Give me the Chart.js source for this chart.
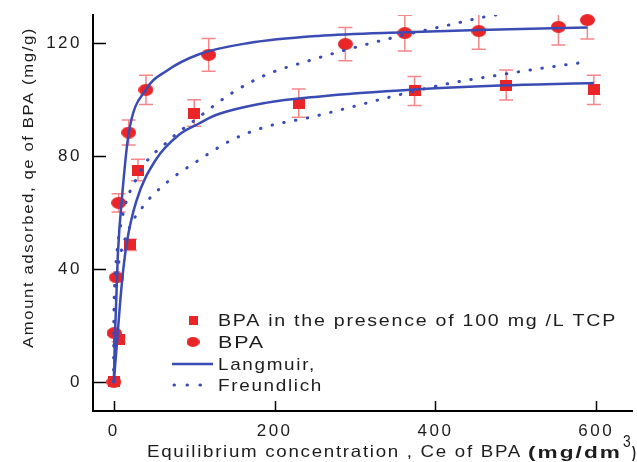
<!DOCTYPE html>
<html>
<head>
<meta charset="utf-8">
<script src="https://cdn.jsdelivr.net/npm/chart.js@4.4.1/dist/chart.umd.min.js"></script>
<style>
  html, body { margin: 0; padding: 0; background: #fff; }
  #wrap { width: 637px; height: 462px; }
</style>
</head>
<body>
<div id="wrap"><canvas id="chart"></canvas></div>
<script>
// measured points (BPA alone, circles)
const bpaX   = [0, 0.5, 3.5, 6, 18.5, 40, 118, 288, 362, 454, 553, 589];
const bpaY   = [0, 17.3, 37, 63.4, 88.3, 103.4, 115.8, 119.6, 123.5, 124.2, 125.7, 128.1];
const bpaErr = [0, 0.8, 1, 3.2, 4.4, 5.2, 5.8, 5.9, 6.3, 6.4, 6.4, 6.7];

// measured points (BPA with 100 mg/L TCP, squares)
const tcpX   = [0, 6, 20, 30, 100, 230, 374, 488, 597];
const tcpY   = [0, 15, 48.5, 75, 95.2, 98.7, 103, 105.1, 103.4];
const tcpErr = [0, 0.8, 2, 3.8, 4.7, 5, 5.1, 5.3, 5.2];

// fitted curves
const langBpaX = [0, 1.5, 5, 11, 18.5, 40, 65, 106, 168, 254, 362, 454, 589];
const langBpaY = [0, 17, 45, 68, 88, 103.5, 110, 116, 120, 122.5, 123.8, 124.6, 125.5];
const langTcpX = [0, 3.5, 10, 16, 28, 53, 81, 106, 127, 189, 254, 374, 488, 597];
const langTcpY = [0, 12.5, 35, 49, 64, 79, 87.5, 91.5, 94.5, 98.8, 101, 103.5, 105, 105.8];
const freBpaX  = [0, 0.3, 1, 3, 7.4, 32, 65, 106, 147, 189, 246, 288, 349, 411, 468, 486];
const freBpaY  = [0, 26, 34, 43, 53.8, 74, 84.6, 93.8, 102.3, 108.7, 114, 117.5, 122, 126, 129.6, 130.3];
const freTcpX  = [0, 0.3, 1, 3, 16, 36, 65, 106, 147, 189, 246, 295, 344, 419, 480, 526, 588];
const freTcpY  = [0, 22, 28.6, 36, 52, 62, 70.4, 78.6, 85.7, 90.3, 93.8, 97.3, 100.9, 105.8, 108.7, 110.8, 113.3];

const xTicks = [0, 200, 400, 600];
const yTicks = [0, 40, 80, 120];

const legendLabels = ['BPA in the presence of 100 mg /L TCP', 'BPA', 'Langmuir,', 'Freundlich'];

const RED = '#ea2528';
const BLUE = '#3a4cb3';
const ERR = '#f4878a';
const TEXT = '#1c1c1c';
const FONT = '"Liberation Sans", Arial, sans-serif';

function pts(xs, ys) { return xs.map((x, i) => ({ x: x, y: ys[i] })); }

function marker(w, h, round) {
  const c = document.createElement('canvas');
  c.width = w; c.height = h;
  const g = c.getContext('2d');
  g.fillStyle = RED;
  if (round) {
    g.beginPath();
    g.ellipse(w / 2, h / 2, w / 2, h / 2, 0, 0, Math.PI * 2);
    g.fill();
  } else {
    g.fillRect(0, 0, w, h);
  }
  return c;
}
const dotMark = marker(15, 12, true);
const boxMark = marker(12, 11, false);

function fitText(ctx, text, x, y, font, width, align) {
  ctx.save();
  ctx.font = font;
  ctx.letterSpacing = '1.5px';
  ctx.fillStyle = TEXT;
  ctx.textAlign = align || 'left';
  const w = ctx.measureText(text).width;
  ctx.translate(x, y);
  ctx.scale(width ? width / w : 1, 1);
  ctx.fillText(text, 0, 0);
  ctx.restore();
}

const errorBars = {
  id: 'errorBars',
  beforeDatasetsDraw(chart) {
    const { ctx, chartArea: a, scales: { x, y } } = chart;
    ctx.save();
    ctx.beginPath();
    ctx.rect(a.left, a.top, a.right - a.left, a.bottom - a.top);
    ctx.clip();
    ctx.strokeStyle = ERR;
    ctx.lineWidth = 1.5;
    [[bpaX, bpaY, bpaErr], [tcpX, tcpY, tcpErr]].forEach(([xs, ys, es]) => {
      xs.forEach((v, i) => {
        if (!es[i]) return;
        const px = x.getPixelForValue(v);
        const top = y.getPixelForValue(ys[i] + es[i]);
        const bot = y.getPixelForValue(ys[i] - es[i]);
        ctx.beginPath();
        ctx.moveTo(px, top); ctx.lineTo(px, bot);
        ctx.moveTo(px - 7, top); ctx.lineTo(px + 7, top);
        ctx.moveTo(px - 7, bot); ctx.lineTo(px + 7, bot);
        ctx.stroke();
      });
    });
    ctx.restore();
  }
};

const decor = {
  id: 'decor',
  beforeDraw(chart) { chart.ctx.letterSpacing = '2.5px'; },
  afterDraw(chart) {
    const { ctx, chartArea: a, scales: { x, y } } = chart;
    ctx.letterSpacing = '0px';
    ctx.save();
    // inward tick marks
    ctx.strokeStyle = '#000';
    ctx.lineWidth = 1.5;
    ctx.beginPath();
    xTicks.forEach(v => {
      const px = Math.round(x.getPixelForValue(v)) + 0.5;
      ctx.moveTo(px, a.bottom); ctx.lineTo(px, a.bottom - 10);
    });
    yTicks.forEach(v => {
      const py = Math.round(y.getPixelForValue(v)) + 0.5;
      ctx.moveTo(a.left, py); ctx.lineTo(a.left + 13, py);
    });
    ctx.stroke();

    // legend
    const rows = [320, 342, 364, 385];
    ctx.drawImage(marker(9, 9, false), 188.5, rows[0] - 4.5);
    ctx.drawImage(marker(13, 10, true), 186.5, rows[1] - 5);
    ctx.strokeStyle = BLUE;
    ctx.lineWidth = 2.5;
    ctx.beginPath(); ctx.moveTo(172, rows[2]); ctx.lineTo(213, rows[2]); ctx.stroke();
    ctx.lineCap = 'round';
    ctx.lineWidth = 3;
    ctx.setLineDash([0.5, 12.5]);
    ctx.beginPath(); ctx.moveTo(174, rows[3]); ctx.lineTo(213, rows[3]); ctx.stroke();
    ctx.setLineDash([]);
    ctx.textBaseline = 'middle';
    const widths = [399, 47, 98, 105];
    legendLabels.forEach((t, i) => fitText(ctx, t, 218, rows[i] + 1, '17px ' + FONT, widths[i]));

    // axis titles
    ctx.textBaseline = 'alphabetic';
    fitText(ctx, 'Equilibrium concentration , Ce of BPA', 147, 457, '16.5px ' + FONT, 375);
    fitText(ctx, '(mg/dm', 528, 458, 'bold 16.5px ' + FONT, 94);
    fitText(ctx, '3', 623, 447, '16px ' + FONT, 9);
    fitText(ctx, ')', 632, 458, 'bold 16.5px ' + FONT, 5);

    ctx.save();
    ctx.translate(33, 187.5);
    ctx.rotate(-Math.PI / 2);
    fitText(ctx, 'Amount adsorbed, qe of BPA (mg/g)', 0, 0, '15.5px ' + FONT, 321, 'center');
    ctx.restore();
    ctx.restore();
  }
};

new Chart(document.getElementById('chart'), {
  type: 'scatter',
  data: {
    datasets: [
      { label: 'Langmuir BPA', data: pts(langBpaX, langBpaY), showLine: true, borderColor: BLUE, borderWidth: 2.5,
        pointRadius: 0, cubicInterpolationMode: 'monotone', clip: 0, order: 0 },
      { label: 'Langmuir TCP', data: pts(langTcpX, langTcpY), showLine: true, borderColor: BLUE, borderWidth: 2.5,
        pointRadius: 0, cubicInterpolationMode: 'monotone', clip: 0, order: 0 },
      { label: 'Freundlich BPA', data: pts(freBpaX, freBpaY), showLine: true, borderColor: BLUE, borderWidth: 3,
        borderDash: [0.5, 11.5], borderCapStyle: 'round', pointRadius: 0, cubicInterpolationMode: 'monotone', clip: 0, order: 0 },
      { label: 'Freundlich TCP', data: pts(freTcpX, freTcpY), showLine: true, borderColor: BLUE, borderWidth: 3,
        borderDash: [0.5, 11.5], borderCapStyle: 'round', pointRadius: 0, cubicInterpolationMode: 'monotone', clip: 0, order: 0 },
      { label: legendLabels[0], data: pts(tcpX, tcpY), pointStyle: boxMark, order: 1, clip: false },
      { label: legendLabels[1], data: pts(bpaX, bpaY), pointStyle: dotMark, order: 1, clip: false }
    ]
  },
  options: {
    responsive: true,
    maintainAspectRatio: false,
    animation: false,
    layout: { padding: { top: 15, right: 1, left: 0, bottom: 0 } },
    plugins: { legend: { display: false }, tooltip: { enabled: false } },
    scales: {
      x: {
        type: 'linear', min: -25.9, max: 644.5,
        afterBuildTicks: s => { s.ticks = xTicks.map(v => ({ value: v })); },
        afterFit: s => { s.height = 51; s.paddingLeft = 0; s.paddingRight = 0; },
        grid: { display: false, drawTicks: false },
        border: { display: true, color: '#000', width: 2 },
        ticks: { font: { family: FONT, size: 17 }, color: TEXT, padding: 10, maxRotation: 0 }
      },
      y: {
        type: 'linear', min: -10.27, max: 129.9,
        afterBuildTicks: s => { s.ticks = yTicks.map(v => ({ value: v })); },
        afterFit: s => { s.width = 93; s.paddingTop = 0; s.paddingBottom = 0; },
        grid: { display: false, drawTicks: false },
        border: { display: true, color: '#000', width: 2 },
        ticks: { font: { family: FONT, size: 17 }, color: TEXT, padding: 11 }
      }
    }
  },
  plugins: [errorBars, decor]
});
</script>
</body>
</html>
